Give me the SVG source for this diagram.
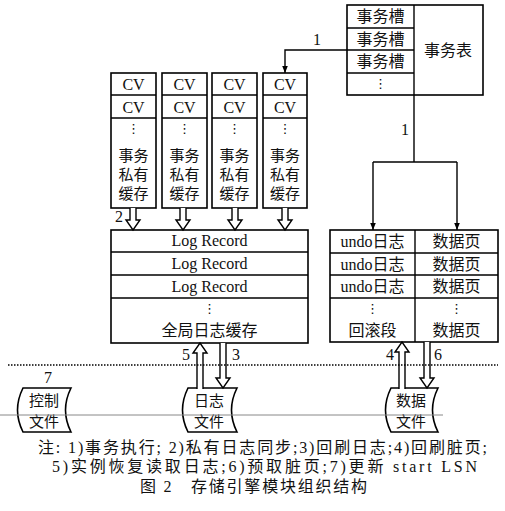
<svg xmlns="http://www.w3.org/2000/svg" width="505" height="511" viewBox="0 0 505 511">
<defs>
<marker id="ah" viewBox="0 0 10 10" refX="10" refY="5" markerWidth="7" markerHeight="7" orient="auto" markerUnits="userSpaceOnUse">
<path d="M0,1 L10,5 L0,9 Z" fill="#000"/>
</marker>
</defs>
<style>
.box{fill:#fff;stroke:#000;stroke-width:1.6}
.ln{fill:none;stroke:#000;stroke-width:1.4}
.ha{fill:#fff;stroke:#000;stroke-width:1.4;stroke-linejoin:miter}
.cn{font-family:"Noto Sans CJK SC","Liberation Serif",serif;font-size:16px;fill:#111;text-anchor:middle}
.cs{font-family:"Noto Sans CJK SC","Liberation Serif",serif;font-size:15px;fill:#111;text-anchor:middle}
.lt{font-family:"Liberation Serif","Noto Sans CJK SC",serif;font-size:16px;fill:#111;text-anchor:middle}
.num{font-family:"Liberation Serif",serif;font-size:16px;fill:#111;text-anchor:middle}
.dot{font-family:"DejaVu Sans",sans-serif;font-size:13px;fill:#111;text-anchor:middle}
.note{font-family:"Liberation Serif","Noto Sans CJK SC",serif;font-size:16px;fill:#111}
</style>
<rect width="505" height="511" fill="#fff"/>

<g id="txtable">
<rect class="box" x="347" y="5" width="136" height="90"/>
<line class="ln" x1="414" y1="5" x2="414" y2="95"/>
<line class="ln" x1="347" y1="28" x2="414" y2="28"/>
<line class="ln" x1="347" y1="50" x2="414" y2="50"/>
<line class="ln" x1="347" y1="73" x2="414" y2="73"/>
<text class="cn" x="380.5" y="22">事务槽</text>
<text class="cn" x="380.5" y="45">事务槽</text>
<text class="cn" x="380.5" y="67">事务槽</text>
<text class="dot" x="380.5" y="88">⋮</text>
<text class="cn" x="448" y="56" font-size="17">事务表</text>
</g>

<g id="cv1">
<rect class="box" x="111" y="73" width="45" height="135"/>
<line class="ln" x1="111" y1="95" x2="156" y2="95"/>
<line class="ln" x1="111" y1="118" x2="156" y2="118"/>
<text class="lt" x="133.5" y="90">CV</text>
<text class="lt" x="133.5" y="113">CV</text>
<text class="dot" x="133.5" y="133">⋮</text>
<text class="cs" x="133.5" y="161">事务</text>
<text class="cs" x="133.5" y="180">私有</text>
<text class="cs" x="133.5" y="199">缓存</text>
</g>
<g id="cv2">
<rect class="box" x="162" y="73" width="45" height="135"/>
<line class="ln" x1="162" y1="95" x2="207" y2="95"/>
<line class="ln" x1="162" y1="118" x2="207" y2="118"/>
<text class="lt" x="184.5" y="90">CV</text>
<text class="lt" x="184.5" y="113">CV</text>
<text class="dot" x="184.5" y="133">⋮</text>
<text class="cs" x="184.5" y="161">事务</text>
<text class="cs" x="184.5" y="180">私有</text>
<text class="cs" x="184.5" y="199">缓存</text>
</g>
<g id="cv3">
<rect class="box" x="212" y="73" width="45" height="135"/>
<line class="ln" x1="212" y1="95" x2="257" y2="95"/>
<line class="ln" x1="212" y1="118" x2="257" y2="118"/>
<text class="lt" x="234.5" y="90">CV</text>
<text class="lt" x="234.5" y="113">CV</text>
<text class="dot" x="234.5" y="133">⋮</text>
<text class="cs" x="234.5" y="161">事务</text>
<text class="cs" x="234.5" y="180">私有</text>
<text class="cs" x="234.5" y="199">缓存</text>
</g>
<g id="cv4">
<rect class="box" x="263" y="73" width="44" height="135"/>
<line class="ln" x1="263" y1="95" x2="307" y2="95"/>
<line class="ln" x1="263" y1="118" x2="307" y2="118"/>
<text class="lt" x="285" y="90">CV</text>
<text class="lt" x="285" y="113">CV</text>
<text class="dot" x="285" y="133">⋮</text>
<text class="cs" x="285" y="161">事务</text>
<text class="cs" x="285" y="180">私有</text>
<text class="cs" x="285" y="199">缓存</text>
</g>

<g id="logbuf">
<rect class="box" x="111" y="230" width="197" height="113"/>
<line class="ln" x1="111" y1="252" x2="308" y2="252"/>
<line class="ln" x1="111" y1="275" x2="308" y2="275"/>
<line class="ln" x1="111" y1="298" x2="308" y2="298"/>
<text class="lt" x="209.5" y="246" font-size="15">Log Record</text>
<text class="lt" x="209.5" y="269" font-size="15">Log Record</text>
<text class="lt" x="209.5" y="292" font-size="15">Log Record</text>
<text class="dot" x="209.5" y="313">⋮</text>
<text class="cn" x="209.5" y="336">全局日志缓存</text>
</g>

<g id="undoseg">
<rect class="box" x="330" y="230" width="168" height="112"/>
<line class="ln" x1="415" y1="230" x2="415" y2="342"/>
<line class="ln" x1="330" y1="253" x2="498" y2="253"/>
<line class="ln" x1="330" y1="275" x2="498" y2="275"/>
<line class="ln" x1="330" y1="298" x2="498" y2="298"/>
<text class="lt" x="372.5" y="247">undo日志</text>
<text class="lt" x="372.5" y="270">undo日志</text>
<text class="lt" x="372.5" y="292">undo日志</text>
<text class="dot" x="372.5" y="313">⋮</text>
<text class="cn" x="372.5" y="336">回滚段</text>
<text class="cn" x="456.5" y="247">数据页</text>
<text class="cn" x="456.5" y="270">数据页</text>
<text class="cn" x="456.5" y="292">数据页</text>
<text class="dot" x="456.5" y="313">⋮</text>
<text class="cn" x="456.5" y="336">数据页</text>
</g>

<g id="ctrlfile">
<path class="box" d="M23,388 L71,388 Q60,410 71,432 L23,432 Q12,410 23,388 Z"/>
<text class="cs" x="44" y="406">控制</text>
<text class="cs" x="44" y="427">文件</text>
</g>
<g id="logfile">
<path class="box" d="M188,388 L237,388 Q226,410 237,432 L188,432 Q177,410 188,388 Z"/>
<text class="cs" x="209" y="406">日志</text>
<text class="cs" x="209" y="427">文件</text>
</g>
<g id="datafile">
<path class="box" d="M391,388 L438,388 Q427,410 438,432 L391,432 Q380,410 391,388 Z"/>
<text class="cs" x="411" y="406">数据</text>
<text class="cs" x="411" y="427">文件</text>
</g>

<g id="connectors">
<path class="ln" d="M347,50 H285 V73" marker-end="url(#ah)"/>
<path class="ln" d="M414,95 V162"/>
<path class="ln" d="M373,162 H457"/>
<path class="ln" d="M373,162 V230" marker-end="url(#ah)"/>
<path class="ln" d="M457,162 V230" marker-end="url(#ah)"/>
<path class="ha" d="M130,208 V220 H126 L133,230 L140,220 H136 V208"/>
<path class="ha" d="M180,208 V220 H176 L183,230 L190,220 H186 V208"/>
<path class="ha" d="M232,208 V220 H228 L235,230 L242,220 H238 V208"/>
<path class="ha" d="M282,208 V220 H278 L285,230 L292,220 H288 V208"/>
<path class="ha" d="M197,389 V353 H193 L200,343 L207,353 H203 V389"/>
<path class="ha" d="M220,343 V378 H216 L223,388 L230,378 H226 V343"/>
<path class="ha" d="M399,389 V352 H395 L402,342 L409,352 H405 V389"/>
<path class="ha" d="M424,342 V378 H420 L427,388 L434,378 H430 V342"/>
<text class="num" x="317" y="45">1</text>
<text class="num" x="405" y="135">1</text>
<text class="num" x="119" y="222">2</text>
<text class="num" x="186" y="360">5</text>
<text class="num" x="236" y="360">3</text>
<text class="num" x="390" y="360">4</text>
<text class="num" x="438" y="360">6</text>
<text class="num" x="48" y="383">7</text>
</g>

<line x1="8" y1="365" x2="498" y2="365" stroke="#000" stroke-width="1.4" stroke-dasharray="1.5,1.5"/>
<line x1="0" y1="415" x2="443" y2="415" stroke="#888" stroke-width="1"/>

<text class="note" x="38" y="453" textLength="449" lengthAdjust="spacing">注:  1)事务执行; 2)私有日志同步;3)回刷日志;4)回刷脏页;</text>
<text class="note" x="52" y="472" textLength="425" lengthAdjust="spacing">5)实例恢复读取日志;6)预取脏页;7)更新 start LSN</text>
<text class="note" x="140" y="492" font-size="18" textLength="227" lengthAdjust="spacing">图 2　存储引擎模块组织结构</text>
</svg>
